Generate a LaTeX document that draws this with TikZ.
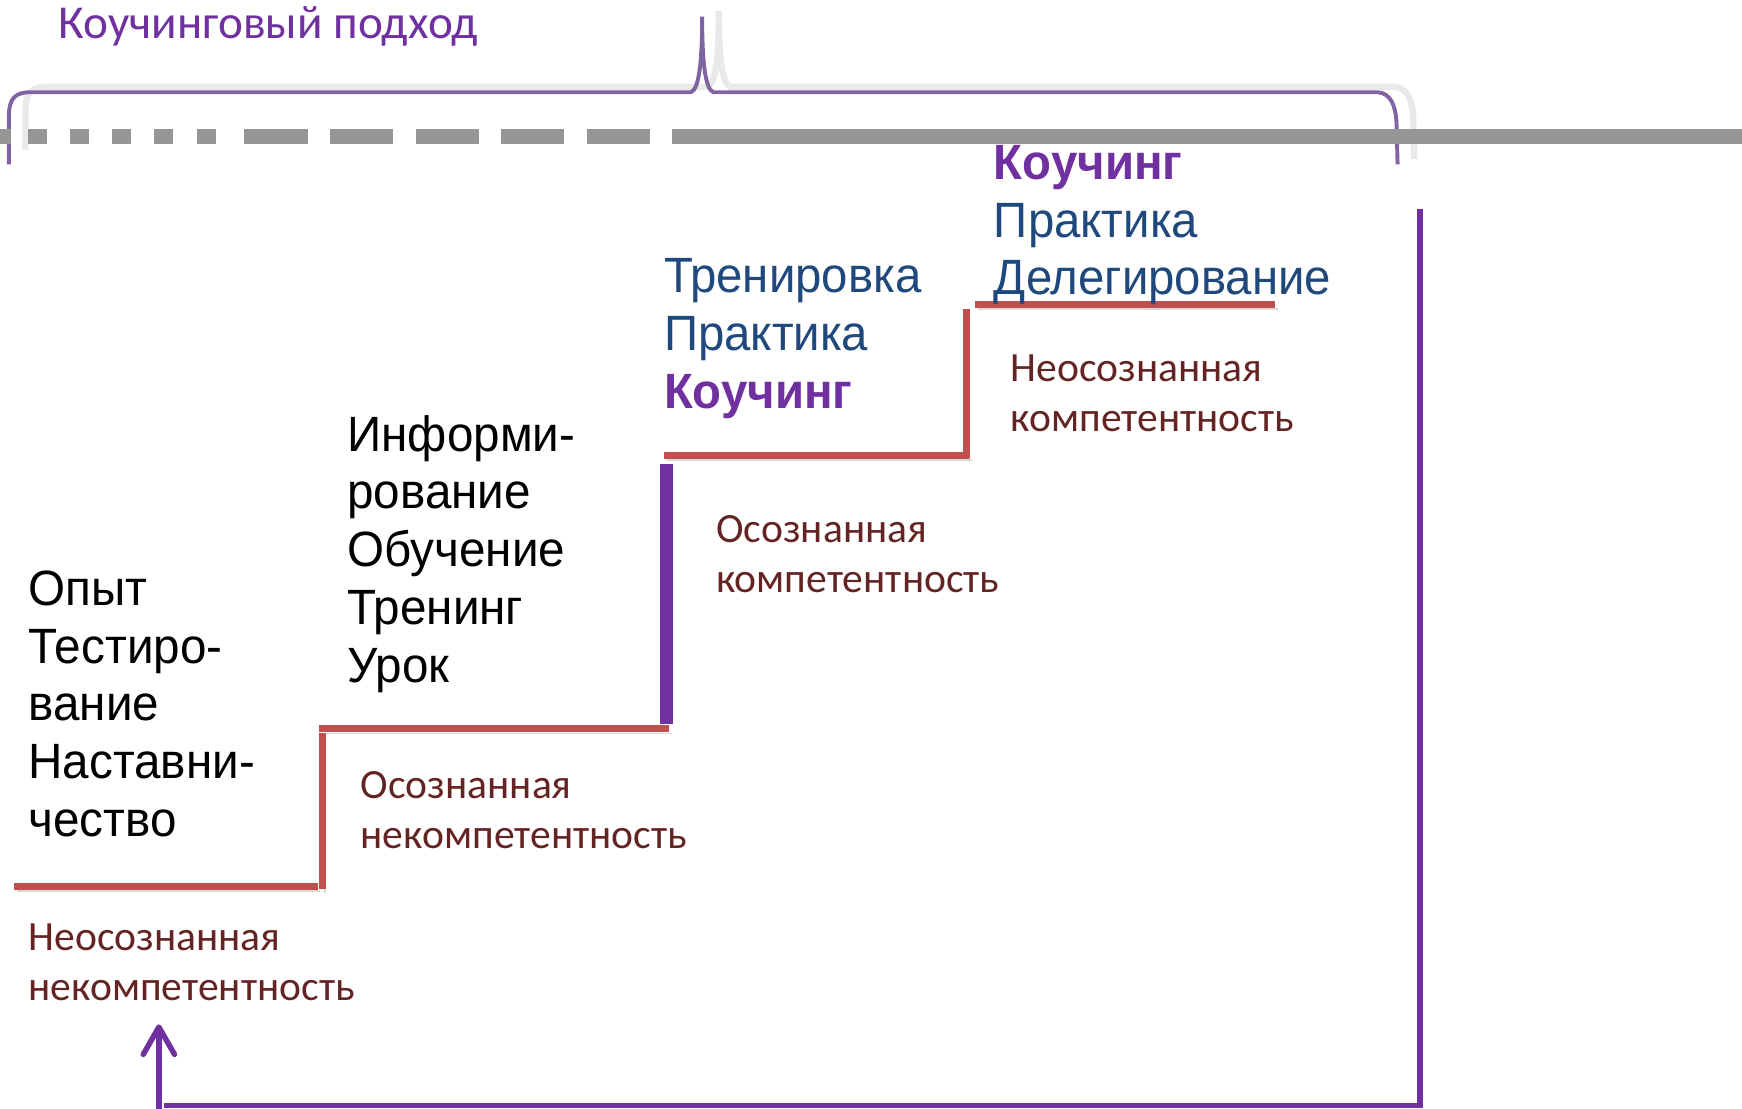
\documentclass[tikz,border=0pt]{standalone}
\usepackage{fontspec}
\setmainfont[FakeStretch=0.96]{Liberation Sans}
\newfontfamily\calibrifont{Carlito}
\newfontfamily\narrowfont[FakeStretch=0.955]{Liberation Sans}
\usetikzlibrary{arrows.meta}
\definecolor{viola}{HTML}{7030A0}
\definecolor{violachiaro}{HTML}{8064A2}
\definecolor{rosso}{HTML}{C0504D}
\definecolor{rossoscuro}{HTML}{632423}
\definecolor{blu}{HTML}{1F497D}
\definecolor{grigio}{HTML}{969696}

\begin{document}
\begin{tikzpicture}[>=latex, x=0.1mm, y=-0.1mm,
	testo/.style = {anchor=north west, inner sep=0pt, align=left, font=\fontsize{12.7}{14.8}\selectfont},
	testoblu/.style = {testo, blu, font=\narrowfont\fontsize{12.7}{14.8}\selectfont},
	livello/.style = {anchor=north west, inner sep=0pt, align=left, rossoscuro, font=\calibrifont\fontsize{10.65}{12.8}\selectfont},
	gradino/.style = {rosso, line width=1.7pt, preaction={draw, black!50, opacity=.3, transform canvas={xshift=.7pt, yshift=-1.2pt}}},
	tratto/.style = {grigio, line width=3.7pt}]
	\useasboundingbox (0,0) rectangle (1568,998);
	%%%	Titolo e graffa
	\node[anchor=north west, inner sep=0pt, viola, font=\calibrifont\fontsize{12.1}{14}\selectfont] (titolo) at (52,5) {Коучинговый подход};
	\draw[black!40, opacity=.22, line width=1.6pt, shift={(15,-5)}] (8,140) -- (8,105) .. controls (8,88) and (14,83) .. (28,83) -- (622,83) .. controls (630,80) and (632,50) .. (632,15) .. controls (632,50) and (634,80) .. (642,83) -- (1240,83) .. controls (1252,84) and (1256,95) .. (1257,110) -- (1258,148);
	\draw[violachiaro, line width=1pt] (8,148) -- (8,105) .. controls (8,88) and (14,83) .. (28,83) -- (622,83) .. controls (630,80) and (632,50) .. (632,15) .. controls (632,50) and (634,80) .. (642,83) -- (1240,83) .. controls (1252,84) and (1256,95) .. (1257,110) -- (1258,148);
	%%%	Linea tratteggiata
	\draw[tratto] (0,123) -- (10,123);
	\foreach \x in {25,63,101,139,177}
		\draw[tratto] (\x,123) -- ++(17,0);
	\foreach \x in {220,297,374,451,528}
		\draw[tratto] (\x,123) -- ++(57,0);
	\draw[tratto] (605,123) -- (1568,123);
	%%%	Scala
	\draw[gradino] (13,798) -- (286,798);
	\draw[gradino] (290,800) -- (290,660);
	\draw[gradino] (287,656) -- (602,656);
	\draw[viola, line width=3.4pt] (600,652) -- (600,418);
	\draw[gradino] (598,410) -- (872,410);
	\draw[gradino] (870,412) -- (870,278);
	\draw[gradino] (878,274) -- (1148,274);
	% Ritorno
	\coordinate (alto) at (1278,188);
	\coordinate (angolo) at (1278,995);
	\coordinate (fine) at (148,995);
	\coordinate (coda) at (143,998);
	\coordinate (punta) at (143,922);
	\draw[viola, line width=1.4pt] (alto) -- (angolo) -- (fine);
	\draw[viola, line width=1.4pt, -{Straight Barb[length=7pt, width=8pt, round]}] (coda) -- (punta);
	%%%	Testi
	\node[testo] (opyt) at (25,513) {Опыт\\Тестиро-\\вание\\Наставни-\\чество};
	\node[testo] (inform) at (312,373) {Информи-\\рование\\Обучение\\Тренинг\\Урок};
	\node[testoblu] (trenir) at (597,232) {Тренировка\\Практика\\\textcolor{viola}{\bfseries Коучинг}};
	\node[testoblu] (deleg) at (894,130) {\textcolor{viola}{\bfseries Коучинг}\\Практика\\Делегирование};
	\node[livello] (livA) at (25,831) {Неосознанная\\некомпетентность};
	\node[livello] (livB) at (324,694) {Осознанная\\некомпетентность};
	\node[livello] (livC) at (644,463) {Осознанная\\компетентность};
	\node[livello] (livD) at (909,319) {Неосознанная\\компетентность};
\end{tikzpicture}
\end{document}
